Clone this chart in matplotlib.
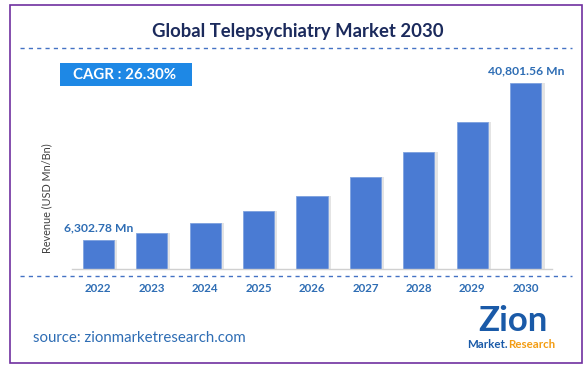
import matplotlib
matplotlib.use("Agg")
import matplotlib.pyplot as plt
from matplotlib.patches import Rectangle
from matplotlib.lines import Line2D

plt.rcParams['font.family'] = ['Lato', 'DejaVu Sans']

years = ['2022', '2023', '2024', '2025', '2026', '2027', '2028', '2029', '2030']
revenue = [6302.78, 7960, 10050, 12700, 16040, 20260, 25580, 32310, 40801.56]
first_label = '6,302.78 Mn'
last_label = '40,801.56 Mn'
title = 'Global Telepsychiatry Market 2030'
cagr = 'CAGR : 26.30%'

W, H = 586, 368
fig = plt.figure(figsize=(W / 100, H / 100), dpi=100)

def px(x0, y0, x1, y1):
    # pixel box (top-left origin) -> figure fraction
    return [x0 / W, 1 - y1 / H, (x1 - x0) / W, (y1 - y0) / H]

# purple frame
fig.patches.append(Rectangle((10 / W, 1 - 363 / H), 572 / W, 358 / H, transform=fig.transFigure,
                             fill=False, edgecolor='#7030a0', lw=1.2))

fig.text(298 / W, 1 - 31 / H, title, ha='center', va='center', fontsize=13.3,
         fontweight='bold', color='#1b2a5c')

blue_dash = '#4472c4'
fig.lines.append(Line2D([20 / W, 572 / W], [1 - 48 / H] * 2, transform=fig.transFigure,
                        color=blue_dash, lw=1, ls=(0, (3, 3))))
fig.lines.append(Line2D([20 / W, 572 / W], [1 - 275.5 / H] * 2, transform=fig.transFigure,
                        color=blue_dash, lw=1, ls=(0, (3, 3))))

# CAGR box
fig.patches.append(Rectangle((60 / W, 1 - 86 / H), 132 / W, 23 / H, transform=fig.transFigure,
                             facecolor='#1e88e5', edgecolor='none'))
fig.text(73 / W, 1 - 75 / H, cagr, ha='left', va='center', fontsize=10.8,
         fontweight='bold', color='white')

ax = fig.add_axes(px(72, 60, 552, 269))
x = list(range(len(years)))
ax.bar([i + 0.06 for i in x], revenue, width=0.58, color='#c4c4c4', alpha=0.45, zorder=1)
ax.bar(x, revenue, width=0.58, color='#4a7bd3', edgecolor='#7fa3e0', lw=0.6, zorder=2)
ax.set_xlim(-0.49, 8.49)
ax.set_ylim(0, 40801.56 * 209 / 186)
ax.set_xticks(x)
ax.set_xticklabels(years)
ax.tick_params(axis='x', length=0, pad=10, labelsize=8.3, labelcolor='#2e6db4')
for t in ax.get_xticklabels():
    t.set_fontweight('bold')
ax.set_yticks([])
for s in ['top', 'right', 'left']:
    ax.spines[s].set_visible(False)
ax.spines['bottom'].set_color('#d0d0d0')
ax.spines['bottom'].set_linewidth(1)
ax.patch.set_visible(False)

ax.annotate(first_label, (x[0], revenue[0]), xytext=(0, 5), textcoords='offset points',
            ha='center', va='bottom', fontsize=8.7, fontweight='bold', color='#2e6db4')
ax.annotate(last_label, (x[-1], revenue[-1]), xytext=(0, 5), textcoords='offset points',
            ha='center', va='bottom', fontsize=8.7, fontweight='bold', color='#2e6db4')

fig.text(47 / W, 1 - 198 / H, 'Revenue (USD Mn/Bn)', rotation=90, ha='center', va='center',
         fontsize=7.8, color='#404040')

fig.text(33 / W, 1 - 338 / H, 'source: zionmarketresearch.com', ha='left', va='center',
         fontsize=10.8, color='#2e6db4')

# logo as text
fig.text(513 / W, 1 - 321 / H, 'Zion', ha='center', va='center', fontsize=25,
         fontweight='bold', color='#1a5aa8')
fig.text(508 / W, 1 - 345 / H, 'Market.', ha='right', va='center', fontsize=8.3,
         fontweight='bold', color='#1a5aa8')
fig.text(508 / W, 1 - 345 / H, 'Research', ha='left', va='center', fontsize=8.3,
         fontweight='bold', color='#f39c12')

fig.savefig('out.png', dpi=100)
